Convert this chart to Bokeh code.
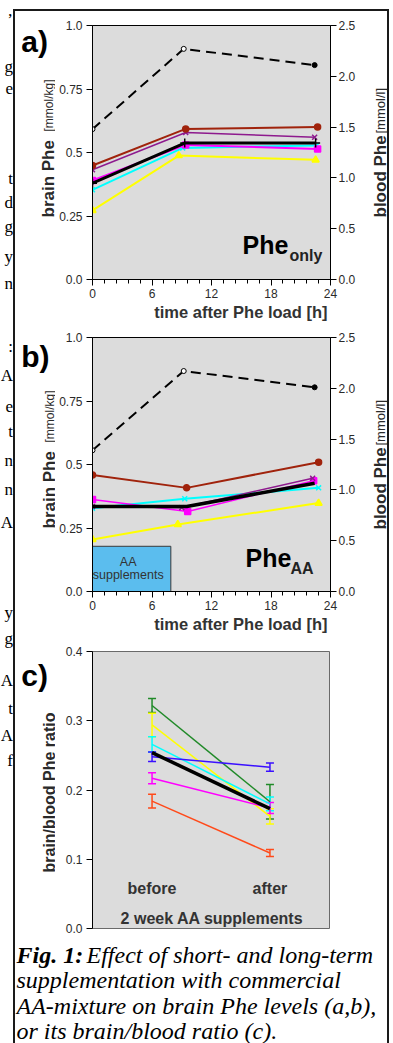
import math
from bokeh.plotting import figure
from bokeh.models import Range1d, LinearAxis, FixedTicker, Label, Whisker, TeeHead, ColumnDataSource, Title
from bokeh.layouts import column, row
from bokeh.embed import file_html
from bokeh.resources import INLINE
from bokeh.core.properties import value

SANS = "Liberation Sans"
SERIF = "Liberation Serif"

# ---------------- data ----------------
hour_ticks = [0, 6, 12, 18, 24]
hour_tick_labels = ["0", "6", "12", "18", "24"]
brain_ticks = [0.0, 0.25, 0.5, 0.75, 1.0]
brain_tick_labels = ["0.0", "0.25", "0.5", "0.75", "1.0"]
blood_ticks = [0.0, 0.5, 1.0, 1.5, 2.0, 2.5]
blood_tick_labels = ["0.0", "0.5", "1.0", "1.5", "2.0", "2.5"]
ratio_ticks = [0.0, 0.1, 0.2, 0.3, 0.4]
ratio_tick_labels = ["0.0", "0.1", "0.2", "0.3", "0.4"]

# panel a: Phe only (brain Phe mmol/kg, blood Phe mmol/l)
a_blood_t = [0, 9.2, 22.4]
a_blood = [1.48, 2.27, 2.11]
a_brown_t = [0, 9.4, 22.7]
a_brown = [0.449, 0.593, 0.600]
a_purple_t = [0, 9.4, 22.4]
a_purple = [0.432, 0.579, 0.560]
a_magenta_t = [0, 9.4, 22.7]
a_magenta = [0.390, 0.530, 0.514]
a_cyan_t = [0, 9.1, 22.6]
a_cyan = [0.353, 0.518, 0.528]
a_yellow_t = [0, 8.7, 22.5]
a_yellow = [0.272, 0.488, 0.471]
a_black_t = [0, 9.3, 22.5]
a_black = [0.379, 0.537, 0.537]

# panel b: Phe + AA
b_blood_t = [0, 9.2, 22.4]
b_blood = [1.39, 2.17, 2.01]
b_brown_t = [0, 9.5, 22.8]
b_brown = [0.459, 0.408, 0.509]
b_purple_t = [0, 9.0, 22.2]
b_purple = [0.335, 0.330, 0.446]
b_magenta_t = [0, 9.6, 22.3]
b_magenta = [0.362, 0.315, 0.436]
b_cyan_t = [0, 9.3, 22.8]
b_cyan = [0.328, 0.365, 0.408]
b_yellow_t = [0, 8.6, 22.8]
b_yellow = [0.205, 0.264, 0.348]
b_black_t = [0, 9.5, 22.4]
b_black = [0.335, 0.335, 0.426]
aa_box_hours = [-0.5, 7.9]
aa_box_level = [0.0, 0.178]

# panel c: brain/blood ratio before/after 2 weeks AA
c_groups = ["before", "after"]
c_pos = [0, 1]
c_green = [0.322, 0.183]
c_green_err = [0.010, 0.025]
c_yellow = [0.294, 0.162]
c_yellow_err = [0.017, 0.011]
c_cyan = [0.266, 0.180]
c_cyan_err = [0.011, 0.010]
c_blue = [0.248, 0.233]
c_blue_err = [0.007, 0.006]
c_magenta = [0.217, 0.174]
c_magenta_err = [0.008, 0.008]
c_orange = [0.184, 0.109]
c_orange_err = [0.010, 0.005]
c_black = [0.254, 0.173]

# text of the page
caption_lines = ["supplementation with commercial",
                 "AA-mixture on brain Phe levels (a,b),",
                 "or its brain/blood ratio (c)."]
strip_letters = ["\u2019", "g", "e", "t", "d", "g", "y", "n", ":", "A", "e", "t",
                 "n", "n", "A", "y", "g", "A", "t", "A", "f"]
strip_rows = [19, 66, 88, 178, 202, 226, 256, 283, 346, 375, 406, 431,
              460, 489, 522, 612, 638, 680, 708, 735, 760]

# ---------------- styles ----------------
BG = "#dcdcdc"
TXT = "#2a2a2a"
BROWN = "#a0230c"
PURPLE = "#8e1a8e"
MAGENTA = "#ff00ff"
CYAN = "#00ffff"
YELLOW = "#ffff00"
GREEN = "#208a28"
BLUE = "#3a10ff"
ORANGE = "#ff4a1a"


class TextFig:
    """A plain canvas whose data units are page pixels (origin at ox, oy)."""

    def __init__(self, w, h, ox, oy):
        self.ox, self.oy, self.h = ox, oy, h
        f = figure(width=w, height=h, x_range=Range1d(0, w), y_range=Range1d(0, h),
                   output_backend="svg", toolbar_location=None, title=None,
                   x_axis_location=None, y_axis_location=None,
                   min_border=0, min_border_left=0, min_border_right=0,
                   min_border_top=0, min_border_bottom=0, frame_align=False,
                   outline_line_color=None, background_fill_color="white",
                   border_fill_color="white")
        f.grid.visible = False
        self.fig = f

    def put(self, x, y, text, size, style="normal", font=SANS, angle=0.0,
            align="left", baseline="alphabetic", color=TXT):
        self.fig.text(x=[x - self.ox], y=[self.h - (y - self.oy)], text=[text],
                      angle=angle, text_font=value(font),
                      text_font_size=f"{size}px", text_font_style=style,
                      text_align=align, text_baseline=baseline, text_color=color)


def style_axis(ax):
    ax.axis_line_color = "black"
    ax.axis_line_width = 1
    ax.major_tick_line_color = "black"
    ax.minor_tick_line_color = "black"
    ax.major_tick_in = 0
    ax.major_tick_out = 6
    ax.minor_tick_in = 0
    ax.minor_tick_out = 4
    ax.major_label_text_font = SANS
    ax.major_label_text_font_size = "12px"
    ax.major_label_text_color = TXT


def time_panel(height, top, bottom):
    p = figure(width=305, height=height, x_range=Range1d(0, 24), y_range=Range1d(0, 1),
               output_backend="svg", toolbar_location=None, title=None,
               min_border_left=37, min_border_right=30, min_border_top=top,
               min_border_bottom=bottom, background_fill_color=BG,
               border_fill_color="white", outline_line_color="black",
               outline_line_width=1, frame_align=False)
    p.grid.visible = False
    p.extra_y_ranges = {"blood": Range1d(0, 2.5)}
    xa = p.xaxis[0]
    style_axis(xa)
    xa.ticker = FixedTicker(ticks=hour_ticks,
                            minor_ticks=[h * 1.2 for h in range(21)])
    xa.major_label_overrides = dict(zip(hour_ticks, hour_tick_labels))
    xa.major_label_standoff = 3
    ya = p.yaxis[0]
    style_axis(ya)
    ya.ticker = FixedTicker(ticks=brain_ticks, minor_ticks=[])
    ya.major_label_overrides = dict(zip(brain_ticks, brain_tick_labels))
    ya.major_label_standoff = 4
    ra = LinearAxis(y_range_name="blood",
                    ticker=FixedTicker(ticks=blood_ticks, minor_ticks=[]))
    style_axis(ra)
    ra.major_label_overrides = dict(zip(blood_ticks, blood_tick_labels))
    ra.major_label_standoff = 2
    p.add_layout(ra, "right")
    p.add_layout(Title(text="time after Phe load [h]", align="right", offset=3,
                       standoff=0, text_font=SANS, text_font_size="16.5px",
                       text_font_style="bold", text_color="#333333"), "below")
    return p


def brain_line(p, t, v, color, marker, lw, size, mlw=1.5):
    p.line(t, v, line_color=color, line_width=lw)
    p.scatter(t, v, marker=marker, size=size, line_color=color,
              fill_color=color, line_width=mlw)


def blood_line(p, t, v):
    p.line(t, v, y_range_name="blood", line_color="black", line_width=2,
           line_dash="10 6")
    p.scatter(t[:-1], v[:-1], y_range_name="blood", marker="circle", size=5,
              line_color="black", fill_color="white", line_width=1)
    p.scatter(t[-1:], v[-1:], y_range_name="blood", marker="circle", size=5,
              line_color="black", fill_color="black")


def lab(p, x, y, text, size, style="bold", color="black"):
    p.add_layout(Label(x=x, y=y, x_units="screen", y_units="screen", text=text,
                       text_font=SANS, text_font_size=f"{size}px",
                       text_font_style=style, text_color=color))


# ---------------- panel a ----------------
pa = time_panel(320, 14, 52)
blood_line(pa, a_blood_t, a_blood)
brain_line(pa, a_yellow_t, a_yellow, YELLOW, "triangle", 2, 7)
brain_line(pa, a_cyan_t, a_cyan, CYAN, "x", 2, 7)
brain_line(pa, a_magenta_t, a_magenta, MAGENTA, "square", 2, 6)
brain_line(pa, a_purple_t, a_purple, PURPLE, "x", 1.5, 7)
brain_line(pa, a_brown_t, a_brown, BROWN, "circle", 2, 6)
brain_line(pa, a_black_t, a_black, "black", "cross", 3, 9)
lab(pa, 150, 21, "Phe", 25)
lab(pa, 197, 16, "only", 16, color="#222222")

La = TextFig(40, 320, 15, 11)
La.put(20.7, 41, "a)", 30, "bold", color="black")
La.put(48, 217, "brain Phe", 17, "bold", angle=math.pi / 2)
La.put(48, 131, "[mmol/kg]", 12, angle=math.pi / 2)
Ra = TextFig(27, 320, 360, 11)
Ra.put(380, 217, "blood Phe", 17, "bold", angle=math.pi / 2)
Ra.put(380, 133, "[mmol/l]", 13, angle=math.pi / 2)

# ---------------- panel b ----------------
pb = time_panel(309, 6, 49)
pb.quad(left=[aa_box_hours[0]], right=[aa_box_hours[1]], bottom=[aa_box_level[0]],
        top=[aa_box_level[1]], fill_color="#5bbdee", line_color="#3a3a3a",
        line_width=1)
pb.text(x=[3.6, 3.6], y=[0.118, 0.063], text=["AA", "supplements"],
        text_font=value(SANS), text_font_size="12.5px", text_align="center",
        text_baseline="middle", text_color="#333333")
blood_line(pb, b_blood_t, b_blood)
brain_line(pb, b_yellow_t, b_yellow, YELLOW, "triangle", 2, 7)
brain_line(pb, b_cyan_t, b_cyan, CYAN, "x", 2, 7)
brain_line(pb, b_magenta_t, b_magenta, MAGENTA, "square", 1.5, 6)
brain_line(pb, b_purple_t, b_purple, PURPLE, "x", 1.5, 7)
brain_line(pb, b_brown_t, b_brown, BROWN, "circle", 2, 6)
pb.line(b_black_t, b_black, line_color="black", line_width=3.5)
lab(pb, 153, 19.3, "Phe", 25)
lab(pb, 198, 14.3, "AA", 16, color="#222222")

Lb = TextFig(40, 309, 15, 331)
Lb.put(20.7, 356, "b)", 30, "bold", color="black")
Lb.put(49, 528, "brain Phe", 17, "bold", angle=math.pi / 2)
Lb.put(49, 442, "[mmol/kg]", 12, angle=math.pi / 2)
Rb = TextFig(27, 309, 360, 331)
Rb.put(380, 529, "blood Phe", 17, "bold", angle=math.pi / 2)
Rb.put(380, 445, "[mmol/l]", 13, angle=math.pi / 2)

# ---------------- panel c ----------------
pc = figure(width=305, height=293, x_range=Range1d(-0.505, 1.505),
            y_range=Range1d(0, 0.4), output_backend="svg", toolbar_location=None,
            title=None, x_axis_location=None, min_border_left=37,
            min_border_right=31, min_border_top=11, min_border_bottom=5,
            background_fill_color=BG, border_fill_color="white",
            outline_line_color="#6a6a6a", outline_line_width=1, frame_align=False)
pc.grid.visible = False
yc = pc.yaxis[0]
style_axis(yc)
yc.ticker = FixedTicker(ticks=ratio_ticks, minor_ticks=[])
yc.major_label_overrides = dict(zip(ratio_ticks, ratio_tick_labels))
yc.major_label_standoff = 4

for vals, errs, col in [(c_green, c_green_err, GREEN), (c_yellow, c_yellow_err, YELLOW),
                        (c_cyan, c_cyan_err, CYAN), (c_blue, c_blue_err, BLUE),
                        (c_magenta, c_magenta_err, MAGENTA), (c_orange, c_orange_err, ORANGE)]:
    src = ColumnDataSource(dict(x=c_pos, y=vals,
                                lo=[v - e for v, e in zip(vals, errs)],
                                hi=[v + e for v, e in zip(vals, errs)]))
    pc.line("x", "y", source=src, line_color=col, line_width=1.5)
    pc.add_layout(Whisker(base="x", lower="lo", upper="hi", source=src,
                          dimension="height", line_color=col, line_width=1.5,
                          upper_head=TeeHead(size=8, line_color=col, line_width=1.5),
                          lower_head=TeeHead(size=8, line_color=col, line_width=1.5)))
pc.line(c_pos, c_black, line_color="black", line_width=3.5)

pc.text(x=c_pos, y=[0.058, 0.058], text=c_groups, text_font=value(SANS),
        text_font_size="16px", text_font_style="bold", text_align="center",
        text_baseline="middle", text_color="#333333")
pc.text(x=[0.51], y=[0.015], text=["2 week AA supplements"], text_font=value(SANS),
        text_font_size="16px", text_font_style="bold", text_align="center",
        text_baseline="middle", text_color="#333333")

Lc = TextFig(40, 293, 15, 640)
Lc.put(20.7, 675, "c)", 30, "bold", color="black")
Lc.put(49, 792, "brain/blood Phe ratio", 16, "bold", angle=math.pi / 2,
       align="center")
Rc = TextFig(27, 293, 360, 640)

# ---------------- caption ----------------
cap = TextFig(372, 110, 15, 933)
cap.put(16, 954, "Fig. 1:", 24, "bold italic", font=SERIF, color="black")
cap.put(86, 954, "Effect of short- and long-term", 24, "italic", font=SERIF,
        color="black")
for i, line in enumerate(caption_lines):
    cap.put(16, 979.5 + 25.5 * i, line, 24, "italic", font=SERIF, color="black")

# ---------------- left strip of body text ----------------
strip = TextFig(13, 1043, 0, 0)
for yy, ch in zip(strip_rows, strip_letters):
    strip.put(12.5, yy, ch, 17, font=SERIF, align="right", color="black")

frame = column(row(La.fig, pa, Ra.fig), row(Lb.fig, pb, Rb.fig),
               row(Lc.fig, pc, Rc.fig), cap.fig, spacing=0, margin=(9, 0, 0, 0),
               styles={"border-top": "2px solid #1a1a1a",
                       "border-left": "2px solid #1a1a1a",
                       "border-right": "2px solid #1a1a1a"})
page = row(strip.fig, frame, spacing=0)

open("out.html", "w").write(file_html(page, INLINE))
